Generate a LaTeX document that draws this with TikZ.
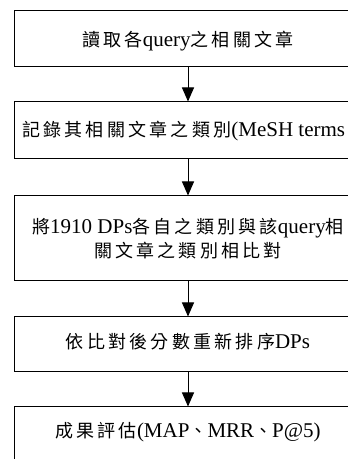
\documentclass[tikz,border=0pt]{standalone}
\usepackage{fontspec}
\setmainfont{Liberation Serif}
\newfontfamily\cjk[LetterSpace=18]{Noto Sans CJK TC}
\usetikzlibrary{arrows.meta}
\newcommand\zh[1]{{\cjk\fontsize{18}{24}\selectfont #1}}
\tikzset{
  stepbox/.style={draw=black, line width=1pt, rectangle, minimum width=348pt, inner sep=0pt},
  steptext/.style={inner sep=0pt, anchor=base, font=\fontsize{21}{24}\selectfont},
  flow/.style={draw=black, line width=1pt, -{Triangle[width=12pt,length=14pt]}}
}
\begin{document}
\begin{tikzpicture}[x=1pt,y=1pt]
\useasboundingbox (0,0) rectangle (348,459);
\fill[white] (0,0) rectangle (348,459);
\clip (0,0) rectangle (348,459);
\node[stepbox, minimum height=56pt] (b1) at (188,420) {};
\node[stepbox, minimum height=57pt] (b2) at (188,328.5) {};
\node[stepbox, minimum height=85pt] (b3) at (188,220.5) {};
\node[stepbox, minimum height=55pt] (b4) at (188,114.5) {};
\node[stepbox, minimum height=70pt] (b5) at (188,17) {};
\node[steptext] (t1) at (188,412.2) {\zh{讀取各}query\zh{之相關文章}};
\node[steptext, anchor=base west] (t2) at (22,322.2) {\zh{記錄其相關文章之類別}(MeSH terms};
\node[steptext] (t3a) at (188,225.5) {\zh{將}1910 DPs\zh{各自之類別與該}query\zh{相}};
\node[steptext] (t3b) at (188,201.5) {\zh{關文章之類別相比對}};
\node[steptext] (t4) at (188,110.5) {\zh{依比對後分數重新排序}DPs};
\node[steptext] (t5) at (188,21.2) {\zh{成果評估}(MAP\zh{、}MRR\zh{、}P@5)};
\draw[flow] (b1.south) -- (b2.north);
\draw[flow] (b2.south) -- (b3.north);
\draw[flow] (b3.south) -- (b4.north);
\draw[flow] (b4.south) -- (b5.north);
\end{tikzpicture}
\end{document}
